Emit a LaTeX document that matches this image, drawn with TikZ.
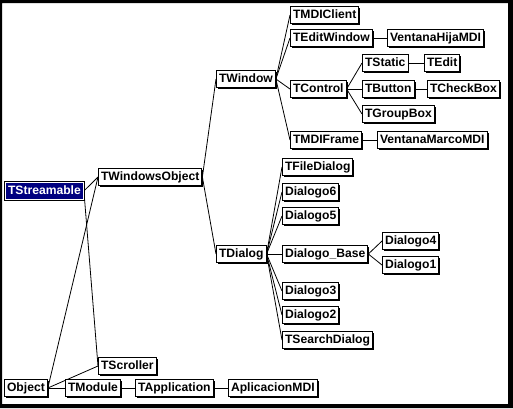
\documentclass[tikz,border=0pt]{standalone}
\usepackage{fontspec}
\setmainfont{Liberation Sans}
\usetikzlibrary{shadows,backgrounds}
\definecolor{selblue}{RGB}{0,0,128}

\begin{document}
\begin{tikzpicture}[x=0.75pt, y=-0.75pt,
	every node/.style={font=\fontsize{9.1}{10}\selectfont\bfseries},
	cls/.style={draw, fill=white, line width=0.75pt, anchor=west, inner xsep=1.9pt, inner ysep=1.6pt,
		text height=7.1pt, text depth=2pt, drop shadow={shadow xshift=1.1pt, shadow yshift=-1.1pt, fill=black, opacity=1}},
	sel/.style={cls, fill=selblue, text=white, draw=white, preaction={draw=black, line width=2.3pt}},
	link/.style={line width=0.6pt}]
	\useasboundingbox (0,0) rectangle (513,408);
	% base classes
	\node[sel] (tstream) at (5,191) {TStreamable};
	\node[cls] (object) at (4,388) {Object};
	\node[cls] (twobj) at (98,177) {TWindowsObject};
	\node[cls] (tscroller) at (98,366) {TScroller};
	\node[cls] (tmodule) at (65,388) {TModule};
	\node[cls] (tapp) at (135,388) {TApplication};
	\node[cls] (aplmdi) at (228,388) {AplicacionMDI};
	% windows
	\node[cls] (twindow) at (216,79) {TWindow};
	\node[cls] (tmdiclient) at (290,15) {TMDIClient};
	\node[cls] (teditwin) at (290,38) {TEditWindow};
	\node[cls] (hijamdi) at (387,38) {VentanaHijaMDI};
	\node[cls] (tcontrol) at (290,89) {TControl};
	\node[cls] (tstatic) at (362,63) {TStatic};
	\node[cls] (tedit) at (424,63) {TEdit};
	\node[cls] (tbutton) at (362,89) {TButton};
	\node[cls] (tcheck) at (427,89) {TCheckBox};
	\node[cls] (tgroup) at (362,114) {TGroupBox};
	\node[cls] (tmdiframe) at (290,140) {TMDIFrame};
	\node[cls] (marcomdi) at (377,140) {VentanaMarcoMDI};
	% dialogs
	\node[cls] (tdialog) at (216,254) {TDialog};
	\node[cls] (tfiledlg) at (282,167) {TFileDialog};
	\node[cls] (dlg6) at (282,192) {Dialogo6};
	\node[cls] (dlg5) at (282,216) {Dialogo5};
	\node[cls] (dlgbase) at (282,254) {Dialogo\_Base};
	\node[cls] (dlg4) at (382,241) {Dialogo4};
	\node[cls] (dlg1) at (382,265) {Dialogo1};
	\node[cls] (dlg3) at (282,291) {Dialogo3};
	\node[cls] (dlg2) at (282,315) {Dialogo2};
	\node[cls] (tsearch) at (282,340) {TSearchDialog};
	\begin{scope}[on background layer]
		\fill[white] (0,0) rectangle (513,408);
		\fill[black, even odd rule] (0,0) rectangle (513,408) (2,3) rectangle (508,404);
		\draw[link] (tstream.east) -- (twobj.west);
		\draw[link] (tstream.east) -- (tscroller.west);
		\draw[link] (object.east) -- (twobj.west);
		\draw[link] (object.east) -- (tscroller.west);
		\draw[link] (object.east) -- (tmodule.west);
		\draw[link] (tmodule.east) -- (tapp.west);
		\draw[link] (tapp.east) -- (aplmdi.west);
		\draw[link] (twobj.east) -- (twindow.west);
		\draw[link] (twobj.east) -- (tdialog.west);
		\foreach \c in {tmdiclient,teditwin,tcontrol,tmdiframe}
			\draw[link] (twindow.east) -- (\c.west);
		\draw[link] (teditwin.east) -- (hijamdi.west);
		\foreach \c in {tstatic,tbutton,tgroup}
			\draw[link] (tcontrol.east) -- (\c.west);
		\draw[link] (tstatic.east) -- (tedit.west);
		\draw[link] (tbutton.east) -- (tcheck.west);
		\draw[link] (tmdiframe.east) -- (marcomdi.west);
		\foreach \c in {tfiledlg,dlg6,dlg5,dlgbase,dlg3,dlg2,tsearch}
			\draw[link] (tdialog.east) -- (\c.west);
		\draw[link] (dlgbase.east) -- (dlg4.west);
		\draw[link] (dlgbase.east) -- (dlg1.west);
	\end{scope}
\end{tikzpicture}
\end{document}
